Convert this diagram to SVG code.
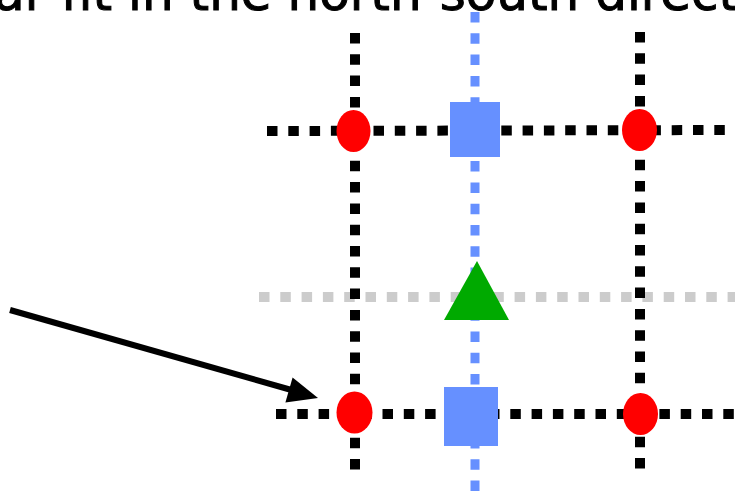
<svg xmlns="http://www.w3.org/2000/svg" width="735" height="492" viewBox="0 0 735 492">
<style>
.blk{stroke:#000;stroke-width:10;stroke-dasharray:10.5 10.8;fill:none}
.blu{stroke:#6690ff;stroke-width:9;stroke-dasharray:10.5 10.8;fill:none}
.gry{stroke:#cccccc;stroke-width:10;stroke-dasharray:10.5 10.8;fill:none}
.pt{fill:#ff0000}
.sq{fill:#6690ff}
.title{font-family:"DejaVu Sans",sans-serif;font-size:50px;fill:#000;stroke:#000;stroke-width:1}
</style>
<rect width="735" height="492" fill="#fff"/>
<text class="title" x="-6" y="10">ar fit in the north-south direct</text>
<g id="connectors">
<line class="gry" x1="259" y1="297" x2="735" y2="297"/>
<line class="blk" x1="355" y1="33" x2="355" y2="470"/>
<line class="blk" x1="640" y1="32" x2="640" y2="469"/>
<line class="blu" x1="475" y1="12" x2="475" y2="492"/>
<line class="blk" x1="267" y1="131" x2="735" y2="130"/>
<line class="blk" x1="276" y1="414" x2="735" y2="414"/>
<line x1="10" y1="310" x2="295" y2="391" stroke="#000" stroke-width="6"/>
<polygon points="318,398 292.6,377.5 285.4,402.5" fill="#000"/>
</g>
<g id="node-tl"><ellipse class="pt" cx="353.5" cy="131" rx="17" ry="21"/></g>
<g id="node-tr"><ellipse class="pt" cx="639.5" cy="130" rx="17.5" ry="21"/></g>
<g id="node-bl"><ellipse class="pt" cx="354.5" cy="412.5" rx="18" ry="21"/></g>
<g id="node-br"><ellipse class="pt" cx="640.5" cy="414" rx="17.5" ry="21"/></g>
<g id="node-sq-top"><rect class="sq" x="450" y="102" width="50" height="55"/></g>
<g id="node-sq-bot"><rect class="sq" x="444" y="387" width="54" height="59"/></g>
<g id="node-tri"><polygon points="477,261 444,320 509,320" fill="#00aa00"/></g>
</svg>
